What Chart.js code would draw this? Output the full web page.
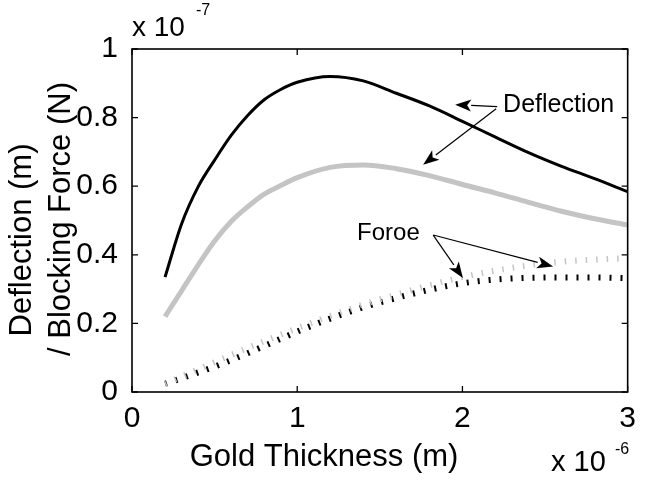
<!DOCTYPE html>
<html>
<head>
<meta charset="utf-8">
<script src="https://cdn.jsdelivr.net/npm/chart.js@4"></script>
<style>
  html, body { margin: 0; padding: 0; background: #fff; }
  #wrap { width: 645px; height: 490px; }
</style>
</head>
<body>
<div id="wrap"><canvas id="c" width="645" height="490"></canvas></div>
<script>
// ---- data (x in 1e-6 m, y in 1e-7 units) ----
const thickness = [0.2, 0.3, 0.4, 0.5, 0.6, 0.7, 0.8, 0.9, 1.0, 1.2, 1.4, 1.6, 1.8, 2.0, 2.2, 2.4, 2.6, 2.8, 3.0];
const deflectionBlack = [0.335, 0.49, 0.598, 0.676, 0.748, 0.806, 0.852, 0.882, 0.903, 0.92, 0.907, 0.871, 0.834, 0.789, 0.743, 0.698, 0.658, 0.622, 0.584];
const deflectionGray  = [0.22, 0.295, 0.37, 0.44, 0.497, 0.54, 0.577, 0.602, 0.625, 0.655, 0.662, 0.651, 0.631, 0.605, 0.58, 0.553, 0.527, 0.505, 0.487];
const forceBlack      = [0.024, 0.04, 0.057, 0.074, 0.093, 0.113, 0.134, 0.155, 0.176, 0.214, 0.247, 0.274, 0.298, 0.317, 0.328, 0.333, 0.334, 0.334, 0.332];
const forceGray       = [0.024, 0.045, 0.066, 0.087, 0.108, 0.128, 0.148, 0.167, 0.186, 0.222, 0.255, 0.284, 0.311, 0.335, 0.354, 0.369, 0.38, 0.386, 0.39];
const xTicks = [0, 1, 2, 3];
const yTicks = [0, 0.2, 0.4, 0.6, 0.8, 1];
const xTitle = 'Gold Thickness (m)';
const yTitleLines = ['Deflection (m)', '/ Blocking Force (N)'];
const xExp = '-6';
const yExp = '-7';
// annotation anchors in data units
const deflLabel = { text: 'Deflection', x: 2.246, y: 0.835 };
const deflArrows = [
  { from: [2.21, 0.832], to: [1.956, 0.8375] },
  { from: [2.204, 0.826], to: [1.762, 0.6624] }
];
const forceLabel = { text: 'Foroe', x: 1.362, y: 0.462 };
const forceArrows = [
  { from: [1.823, 0.4576], to: [2.003, 0.3323] },
  { from: [1.823, 0.4576], to: [2.549, 0.3659] }
];

const FONT = '"Liberation Sans", Arial, Helvetica, sans-serif';
const pts = arr => thickness.map((x, i) => ({ x: x, y: arr[i] }));

const decor = {
  id: 'decor',
  afterDraw(chart) {
    const ctx = chart.ctx;
    const a = chart.chartArea;
    const xs = chart.scales.x, ys = chart.scales.y;
    ctx.save();
    // box
    ctx.strokeStyle = '#000';
    ctx.lineWidth = 1.6;
    ctx.strokeRect(a.left, a.top, a.right - a.left, a.bottom - a.top);
    // inward ticks on all four sides
    ctx.lineWidth = 1.3;
    const tl = 6;
    ctx.beginPath();
    xTicks.forEach(v => {
      const px = xs.getPixelForValue(v);
      ctx.moveTo(px, a.bottom); ctx.lineTo(px, a.bottom - tl);
      ctx.moveTo(px, a.top); ctx.lineTo(px, a.top + tl);
    });
    yTicks.forEach(v => {
      const py = ys.getPixelForValue(v);
      ctx.moveTo(a.left, py); ctx.lineTo(a.left + tl, py);
      ctx.moveTo(a.right, py); ctx.lineTo(a.right - tl, py);
    });
    ctx.stroke();

    ctx.fillStyle = '#000';
    // x title (MATLAB places it left of centre here)
    ctx.font = '31px ' + FONT;
    ctx.textAlign = 'center';
    ctx.textBaseline = 'middle';
    ctx.fillText(xTitle, 324, 457);
    // x exponent
    ctx.font = '29px ' + FONT;
    ctx.textAlign = 'left';
    ctx.fillText('x 10', 551, 463);
    ctx.font = '16px ' + FONT;
    ctx.fillText(xExp, 615, 450);
    // y exponent
    ctx.font = '28px ' + FONT;
    ctx.fillText('x 10', 132, 28);
    ctx.font = '16px ' + FONT;
    ctx.textBaseline = 'alphabetic';
    ctx.fillText(yExp, 196, 15);
    // y title, rotated
    ctx.font = '31px ' + FONT;
    ctx.textAlign = 'center';
    ctx.textBaseline = 'middle';
    ctx.save();
    ctx.translate(22, 240); ctx.rotate(-Math.PI / 2);
    ctx.fillText(yTitleLines[0], 0, 0);
    ctx.restore();
    ctx.save();
    ctx.translate(61, 219); ctx.rotate(-Math.PI / 2);
    ctx.fillText(yTitleLines[1], 0, 0);
    ctx.restore();

    // annotations
    ctx.textAlign = 'left';
    ctx.textBaseline = 'middle';
    ctx.font = '25px ' + FONT;
    ctx.fillText(deflLabel.text, xs.getPixelForValue(deflLabel.x), ys.getPixelForValue(deflLabel.y));
    ctx.font = '24px ' + FONT;
    ctx.fillText(forceLabel.text, xs.getPixelForValue(forceLabel.x), ys.getPixelForValue(forceLabel.y));

    const arrow = (f, t) => {
      const x1 = xs.getPixelForValue(f[0]), y1 = ys.getPixelForValue(f[1]);
      const x2 = xs.getPixelForValue(t[0]), y2 = ys.getPixelForValue(t[1]);
      const ang = Math.atan2(y2 - y1, x2 - x1);
      const hl = 16, hw = 6;
      const bx = x2 - hl * Math.cos(ang), by = y2 - hl * Math.sin(ang);
      ctx.lineWidth = 1.2;
      ctx.beginPath(); ctx.moveTo(x1, y1); ctx.lineTo(bx, by); ctx.stroke();
      ctx.beginPath();
      ctx.moveTo(x2, y2);
      ctx.lineTo(bx + hw * Math.sin(ang), by - hw * Math.cos(ang));
      ctx.lineTo(bx + 4 * Math.cos(ang), by + 4 * Math.sin(ang));
      ctx.lineTo(bx - hw * Math.sin(ang), by + hw * Math.cos(ang));
      ctx.closePath(); ctx.fill();
    };
    deflArrows.forEach(ar => arrow(ar.from, ar.to));
    forceArrows.forEach(ar => arrow(ar.from, ar.to));
    ctx.restore();
  }
};

const lineBase = { showLine: true, pointRadius: 0, cubicInterpolationMode: 'monotone', fill: false };

new Chart(document.getElementById('c'), {
  type: 'scatter',
  data: {
    datasets: [
      Object.assign({ label: 'Deflection A', data: pts(deflectionGray), borderColor: '#c4c4c4', borderWidth: 5 }, lineBase),
      Object.assign({ label: 'Deflection B', data: pts(deflectionBlack), borderColor: '#000', borderWidth: 3 }, lineBase),
      Object.assign({ label: 'Force A', data: pts(forceGray), borderColor: '#c4c4c4', borderWidth: 6, borderDash: [1.5, 9] }, lineBase),
      Object.assign({ label: 'Force B', data: pts(forceBlack), borderColor: '#000', borderWidth: 6, borderDash: [2, 9] }, lineBase)
    ]
  },
  options: {
    responsive: false,
    animation: false,
    events: [],
    layout: { padding: { top: 49, right: 17, left: 0, bottom: 0 } },
    plugins: { legend: { display: false }, tooltip: { enabled: false }, title: { display: false } },
    scales: {
      x: {
        type: 'linear', min: 0, max: 3,
        afterBuildTicks: s => { s.ticks = xTicks.map(v => ({ value: v })); },
        afterFit: s => { s.height = 98; },
        grid: { display: false, drawTicks: false },
        border: { display: false },
        ticks: { color: '#000', padding: 9, font: { family: FONT, size: 30 }, maxRotation: 0,
                 callback: v => String(+Number(v).toFixed(1)) }
      },
      y: {
        type: 'linear', min: 0, max: 1,
        afterBuildTicks: s => { s.ticks = yTicks.map(v => ({ value: v })); },
        afterFit: s => { s.width = 132; },
        grid: { display: false, drawTicks: false },
        border: { display: false },
        ticks: { color: '#000', padding: 14, font: { family: FONT, size: 30 },
                 callback: v => String(+Number(v).toFixed(1)) }
      }
    }
  },
  plugins: [decor]
});
</script>
</body>
</html>
